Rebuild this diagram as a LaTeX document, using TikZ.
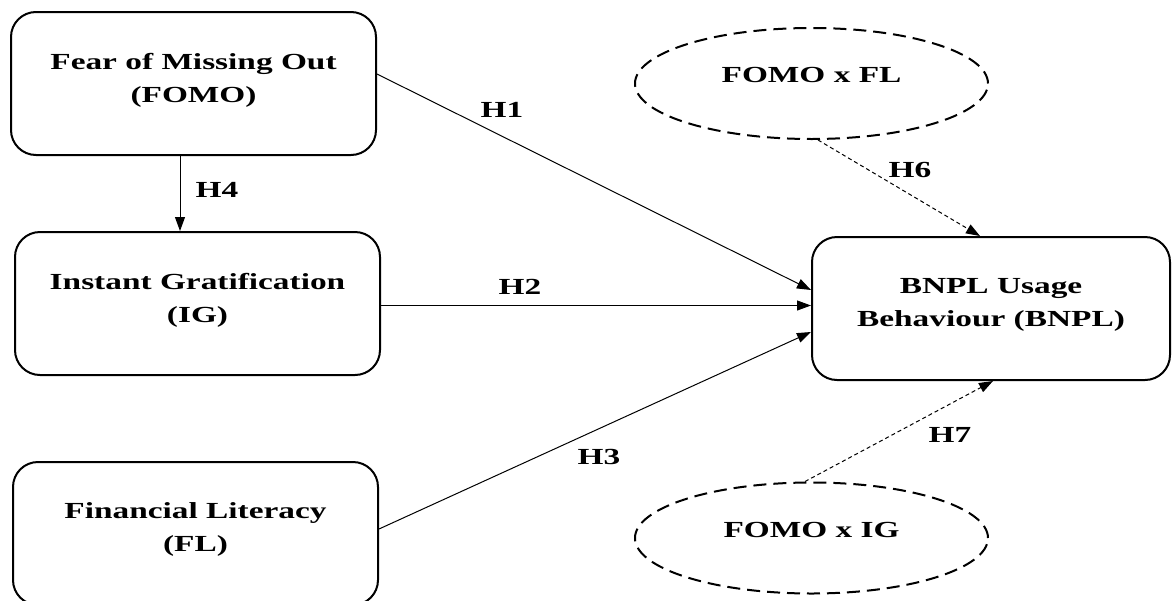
\documentclass[tikz,border=0pt]{standalone}
\usepackage{fontspec}
\setmainfont{Liberation Serif}[FakeStretch=1.45]
\usetikzlibrary{shapes.geometric,arrows.meta}
\tikzset{construct/.style={draw, rectangle, rounded corners=25pt, line width=2pt,
                           minimum width=365pt, minimum height=143pt, align=center,
                           font=\bfseries\fontsize{23}{33}\selectfont,
                           execute at end node={\rule[-12pt]{0pt}{0pt}}},
         moderator/.style={draw, ellipse, line width=2pt, dash pattern=on 13pt off 7pt,
                           minimum width=353pt, minimum height=111pt, text depth=17pt,
                           font=\bfseries\fontsize{23}{27}\selectfont},
         hyp/.style={-{Triangle[length=14pt,width=10pt]}, line width=1pt},
         modhyp/.style={hyp, dash pattern=on 4pt off 3pt},
         hlabel/.style={inner sep=0pt, font=\bfseries\fontsize{23}{27}\selectfont}}

\begin{document}
\begin{tikzpicture}[x=1pt,y=-1pt]
      \useasboundingbox (0,0) rectangle (1172,600);
      % constructs
      \node[construct] (fomo) at (193.5,83.5) {Fear of Missing Out\\(FOMO)};
      \node[construct] (ig) at (197.5,303.5) {Instant Gratification\\(IG)};
      \node[construct] (fl) at (195.5,533.5) {Financial Literacy\\(FL)};
      \node[construct, minimum width=358pt] (bnpl) at (991,308.5)
	{BNPL Usage\\Behaviour (BNPL)};
      % moderators
      \node[moderator] (fomofl) at (811.5,83.5) {FOMO x FL};
      \node[moderator] (fomoig) at (811.5,538) {FOMO x IG};
      % paths
      \draw[hyp] ([yshift=9.5pt]fomo.east) -- ([yshift=18.5pt]bnpl.west);
      \draw[hyp] ([yshift=-2pt]ig.east) -- ([yshift=-2pt]ig.east -| bnpl.west);
      \draw[hyp] ([yshift=4.5pt]fl.east) -- ([yshift=-23.5pt]bnpl.west);
      \draw[hyp] ([xshift=-13.5pt]fomo.south) -- ([xshift=-13.5pt]fomo.south |- ig.north);
      \draw[modhyp] ([xshift=6.5pt]fomofl.south) -- ([xshift=-11pt]bnpl.north);
      \draw[modhyp] ([xshift=-6.5pt]fomoig.north) -- ([xshift=2pt]bnpl.south);
      % hypotheses
      \node[hlabel] (h1) at (502,110) {H1};
      \node[hlabel] (h2) at (520,287) {H2};
      \node[hlabel] (h3) at (599,457) {H3};
      \node[hlabel] (h4) at (217,190) {H4};
      \node[hlabel] (h6) at (910,170) {H6};
      \node[hlabel] (h7) at (950,435) {H7};
    \end{tikzpicture}
\end{document}
